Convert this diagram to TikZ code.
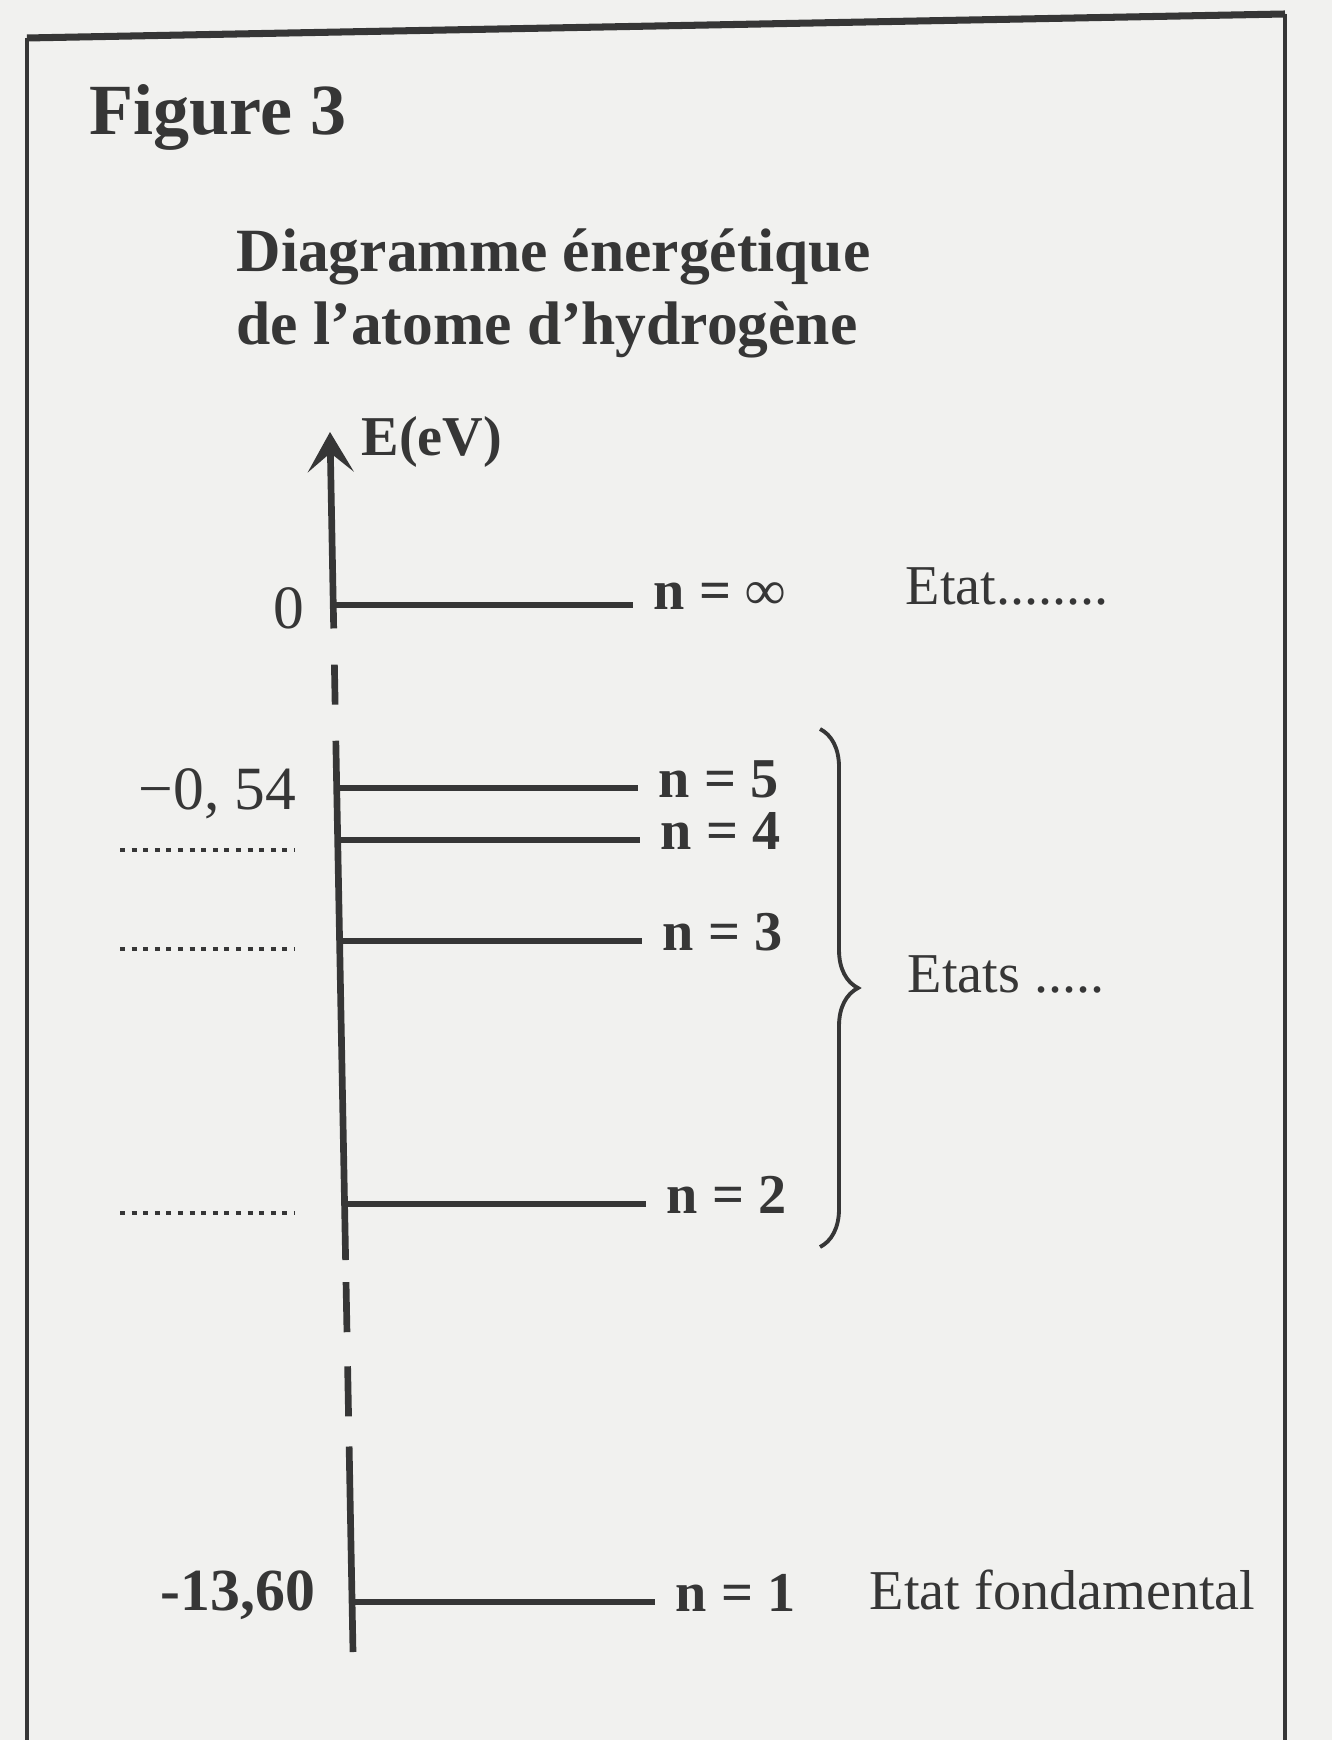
\documentclass[tikz,border=0pt]{standalone}
\usepackage{fontspec}
\setmainfont{Liberation Serif}
\usetikzlibrary{arrows.meta,calc,decorations.pathreplacing}
\definecolor{ink}{HTML}{363636}
\definecolor{paper}{HTML}{F1F1EF}

\begin{document}
\begin{tikzpicture}[x=0.1mm,y=-0.1mm,
  title/.style={font=\bfseries\fontsize{17.5}{20}\selectfont,text=ink,inner sep=0pt,anchor=base west},
  lbl/.style={font=\fontsize{16}{18}\selectfont,text=ink,inner sep=0pt,anchor=west},
  nlbl/.style={lbl,font=\bfseries\fontsize{16}{18}\selectfont},
  val/.style={font=\fontsize{17.5}{20}\selectfont,text=ink,inner sep=0pt,anchor=east},
  level/.style={draw=ink,line width=1.6pt},
  axisline/.style={draw=ink,line width=1.9pt},
  guide/.style={draw=ink,line width=1.1pt,dash pattern=on 1.4pt off 1.9pt},
  >=Stealth]

\fill[paper] (0,0) rectangle (1332,1740);
\useasboundingbox (0,0) rectangle (1332,1740);

% frame
\draw[ink,line width=1pt] (27,1740) -- (27,38);
\draw[ink,line width=2pt] (27,38) -- (1285,14);
\draw[ink,line width=1pt] (1285,14) -- (1285,1740);

\node[title,font=\bfseries\fontsize{20.5}{24}\selectfont] (fig) at (89,135) {Figure 3};
\node[title] (title1) at (236,272) {Diagramme énergétique};
\node[title] (title2) at (236,345) {de l’atome d’hydrogène};

% broken energy axis
\coordinate (top) at (330,432);
\coordinate (axend) at ($(top)!{(631-435)/1217}!(353,1652)$);
\draw[axisline,-{Stealth[length=4mm,width=4.6mm,inset=1.9mm]}] (axend) -- (top);
\foreach \ya/\yb in {667/707,743/1261,1283/1333,1367/1417,1447/1652}{
  \coordinate (s\ya) at ($(top)!{(\ya-435)/1217}!(353,1652)$);
  \coordinate (e\ya) at ($(top)!{(\yb-435)/1217}!(353,1652)$);
  \draw[axisline] (s\ya) -- (e\ya);
}
\node[nlbl] (unit) at (361,442) {E(eV)};

% levels
\foreach \y/\xe/\n/\lab in {605/633/inf/∞,788/638/5/5,840/640/4/4,941/642/3/3,1204/646/2/2,1602/655/1/1}{
  \pgfmathsetmacro\xs{333+(\y-435)/1217*23}
  \coordinate (L\n a) at (\xs,\y);
  \coordinate (L\n b) at (\xe,\y);
  \draw[level] (L\n a) -- (L\n b);
  \node[nlbl] (n\n) at ($(L\n b)+(20,-9)$) {n = \lab};
}

\node[val] (v0) at (305,608) {0};
\node[val] (v5) at (297,794) {−0, 54};
\node[val,font=\bfseries\fontsize{17}{20}\selectfont] (v1) at (316,1595) {-13,60};

\foreach \y in {850,949,1213}{
  \coordinate (g\y a) at (120,\y);
  \coordinate (g\y b) at (294,\y);
  \draw[guide] (g\y a) -- (g\y b);
}

\coordinate (btop) at (820,729);
\coordinate (bbot) at (820,1247);
\draw[ink,line width=1.1pt,decorate,decoration={brace,amplitude=3.8mm}] (btop) -- (bbot);

\node[lbl] (inf) at (905,586) {Etat........};
\node[lbl] (exc) at (907,974) {Etats .....};
\node[lbl] (fond) at (869,1590) {Etat fondamental};
\end{tikzpicture}
\end{document}
